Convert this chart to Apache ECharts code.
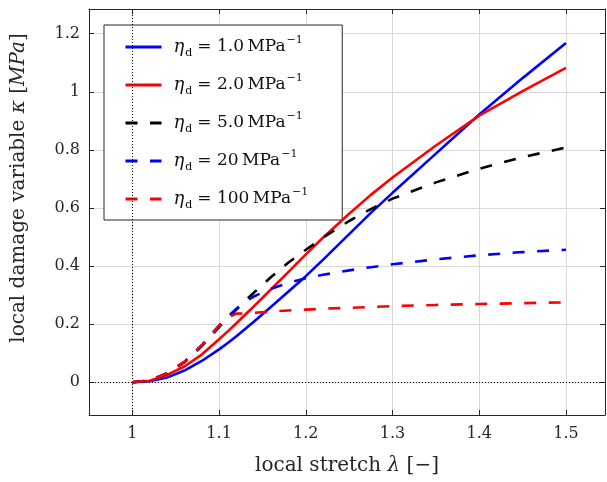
<!DOCTYPE html>
<html><head><meta charset="utf-8">
<script src="https://cdn.jsdelivr.net/npm/echarts@6.0.0/dist/echarts.min.js"></script>
<style>html,body{margin:0;padding:0;background:#fff}#c{width:607px;height:482px}</style>
</head><body><div id="c"></div><script>
// local stretch lambda (x values, shared by all curves)
const stretch = [1.00, 1.02, 1.04, 1.06, 1.08, 1.10, 1.11, 1.12, 1.13, 1.14, 1.16, 1.18, 1.20, 1.22, 1.25, 1.275, 1.30, 1.35, 1.40, 1.45, 1.50];
// local damage variable kappa for each eta_d
const kappaEta1   = [0, 0.003, 0.016, 0.040, 0.073, 0.113, 0.135, 0.158, 0.183, 0.208, 0.260, 0.312, 0.365, 0.422, 0.510, 0.583, 0.652, 0.787, 0.922, 1.047, 1.168];
const kappaEta2   = [0, 0.005, 0.025, 0.054, 0.095, 0.148, 0.175, 0.203, 0.232, 0.261, 0.320, 0.380, 0.440, 0.498, 0.580, 0.645, 0.705, 0.815, 0.918, 1.002, 1.082];
const kappaEta5   = [0, 0.006, 0.030, 0.068, 0.124, 0.190, 0.220, 0.250, 0.280, 0.308, 0.362, 0.412, 0.456, 0.498, 0.555, 0.596, 0.632, 0.688, 0.735, 0.775, 0.808];
const kappaEta20  = [0, 0.006, 0.031, 0.070, 0.127, 0.195, 0.225, 0.253, 0.278, 0.295, 0.322, 0.342, 0.358, 0.370, 0.385, 0.396, 0.406, 0.423, 0.437, 0.448, 0.456];
const kappaEta100 = [0, 0.006, 0.031, 0.070, 0.127, 0.195, 0.222, 0.236, 0.237, 0.239, 0.243, 0.247, 0.250, 0.253, 0.256, 0.259, 0.262, 0.266, 0.269, 0.272, 0.275];
const etaLabels = ['1.0', '2.0', '5.0', '20', '100'];
const kappaSets = [kappaEta1, kappaEta2, kappaEta5, kappaEta20, kappaEta100];
const colors = ['#0000ff', '#ff0000', '#000000', '#0000ff', '#ff0000'];
const dashed = [false, false, true, true, true];

const FONT = 'DejaVu Serif';
const TXT = '#262626';
const xRange = [0.95, 1.545];
const yRange = [-0.113, 1.285];

const series = kappaSets.map((k, i) => ({
  name: etaLabels[i],
  type: 'line',
  data: stretch.map((x, j) => [x, k[j]]),
  showSymbol: false,
  symbol: 'none',
  smooth: false,
  lineStyle: { color: colors[i], width: 2.6, type: dashed[i] ? [12, 12.5] : 'solid' },
  itemStyle: { color: colors[i] },
  z: 3 + i
}));
series[0].markLine = {
  silent: true, symbol: 'none', label: { show: false }, animation: false,
  lineStyle: { type: [1, 2], color: '#000', width: 1 },
  data: [{ xAxis: 1 }, { yAxis: 0 }]
};

const axisCommon = {
  type: 'value',
  axisLine: { show: true, onZero: false, lineStyle: { color: TXT, width: 1 } },
  axisTick: { show: true, inside: true, length: 5, lineStyle: { color: TXT } },
};
const nameRich = {
  n: { fontFamily: FONT, fontSize: 20, color: TXT },
  i: { fontFamily: FONT, fontSize: 20, fontStyle: 'italic', color: TXT }
};

const chart = echarts.init(document.getElementById('c'), null, { renderer: 'canvas' });
chart.setOption({
  animation: false,
  backgroundColor: '#fff',
  grid: { left: 89, top: 9, right: 2, bottom: 67, containLabel: false },
  xAxis: [
    Object.assign({}, axisCommon, {
      min: xRange[0], max: xRange[1], splitNumber: 6, position: 'bottom',
      axisLabel: { color: TXT, fontFamily: FONT, fontSize: 16, margin: 11, showMinLabel: false, showMaxLabel: false },
      splitLine: { show: true, lineStyle: { color: '#d9d9d9', width: 1 } },
      name: '{n|local stretch }{i|λ}{n| [−]}', nameLocation: 'middle', nameGap: 41,
      nameTextStyle: { color: TXT, fontFamily: FONT, fontSize: 20, rich: nameRich }
    }),
    Object.assign({}, axisCommon, {
      min: xRange[0], max: xRange[1], splitNumber: 6, position: 'top',
      axisLabel: { show: false }, splitLine: { show: false }
    })
  ],
  yAxis: [
    Object.assign({}, axisCommon, {
      min: yRange[0], max: yRange[1], splitNumber: 7, position: 'left',
      axisLabel: { color: TXT, fontFamily: FONT, fontSize: 16, margin: 9, showMinLabel: false, showMaxLabel: false },
      splitLine: { show: true, lineStyle: { color: '#d9d9d9', width: 1 } },
      name: '{n|local damage variable }{i|κ}{n| [}{i|MPa}{n|]}', nameLocation: 'middle', nameGap: 60, nameRotate: 90,
      nameTextStyle: { color: TXT, fontFamily: FONT, fontSize: 20, padding: [0, 0, 0, 48], rich: nameRich }
    }),
    Object.assign({}, axisCommon, {
      min: yRange[0], max: yRange[1], splitNumber: 7, position: 'right',
      axisLabel: { show: false }, splitLine: { show: false }
    })
  ],
  legend: {
    orient: 'vertical', left: 104, top: 25,
    padding: [10, 34, 9, 20], itemGap: 14, itemWidth: 36, itemHeight: 14,
    backgroundColor: '#fff', borderColor: TXT, borderWidth: 1, borderRadius: 0,
    data: etaLabels,
    itemStyle: { opacity: 0 },
    lineStyle: { width: 3 },
    formatter: name => `{e|η}{s|d}{r|= ${name}\u2009MPa}{p|−1}`,
    textStyle: {
      color: '#111', fontFamily: FONT, fontSize: 17, padding: [0, 0, 0, 7],
      rich: {
        e: { fontFamily: FONT, fontSize: 18, fontStyle: 'italic', lineHeight: 24, color: '#111' },
        s: { fontFamily: FONT, fontSize: 11, lineHeight: 11, verticalAlign: 'bottom', padding: [0, 5, 0, 1], color: '#111' },
        r: { fontFamily: FONT, fontSize: 17, lineHeight: 24, color: '#111' },
        p: { fontFamily: FONT, fontSize: 11, lineHeight: 11, verticalAlign: 'top', padding: [0, 0, 0, 1], color: '#111' }
      }
    }
  },
  series: series
});
</script></body></html>
